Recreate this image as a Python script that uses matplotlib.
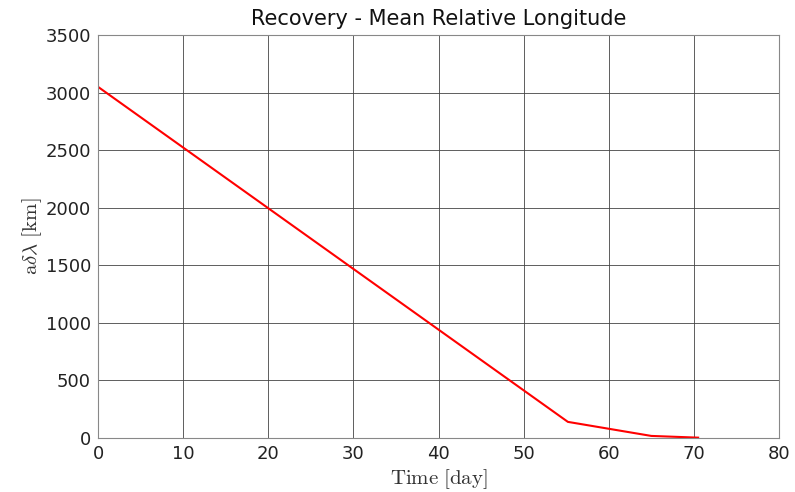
import matplotlib
matplotlib.use('Agg')
import matplotlib.pyplot as plt

plt.rcParams['mathtext.fontset'] = 'cm'

# Данные
t_day = [0, 55.2, 65.0, 70.5]
a_dlambda = [3050, 140, 18, 3]

fig = plt.figure(figsize=(7.95, 4.92), dpi=100)
ax = fig.add_axes([98 / 795, 1 - 438 / 492, 681 / 795, 403 / 492])

ax.plot(t_day, a_dlambda, color='red', linewidth=1.5)

ax.set_xlim(0, 80)
ax.set_ylim(0, 3500)
ax.set_xticks(range(0, 81, 10))
ax.set_yticks(range(0, 3501, 500))
ax.grid(True, color='#444444', linewidth=0.6)
ax.set_axisbelow(True)
for s in ax.spines.values():
    s.set_color('#888888')
    s.set_linewidth(0.8)
ax.tick_params(length=0, labelsize=13, colors='#222222', pad=5)

ax.set_title('Recovery - Mean Relative Longitude', fontsize=15, color='#111111', pad=7)
ax.set_xlabel(r'$\mathrm{Time\ [day]}$', fontsize=15, color='#333333', labelpad=3)
ax.set_ylabel(r'$\mathrm{a}\delta\lambda\ \mathrm{[km]}$', fontsize=15, color='#333333', labelpad=1)

fig.savefig('out.png', dpi=100)
